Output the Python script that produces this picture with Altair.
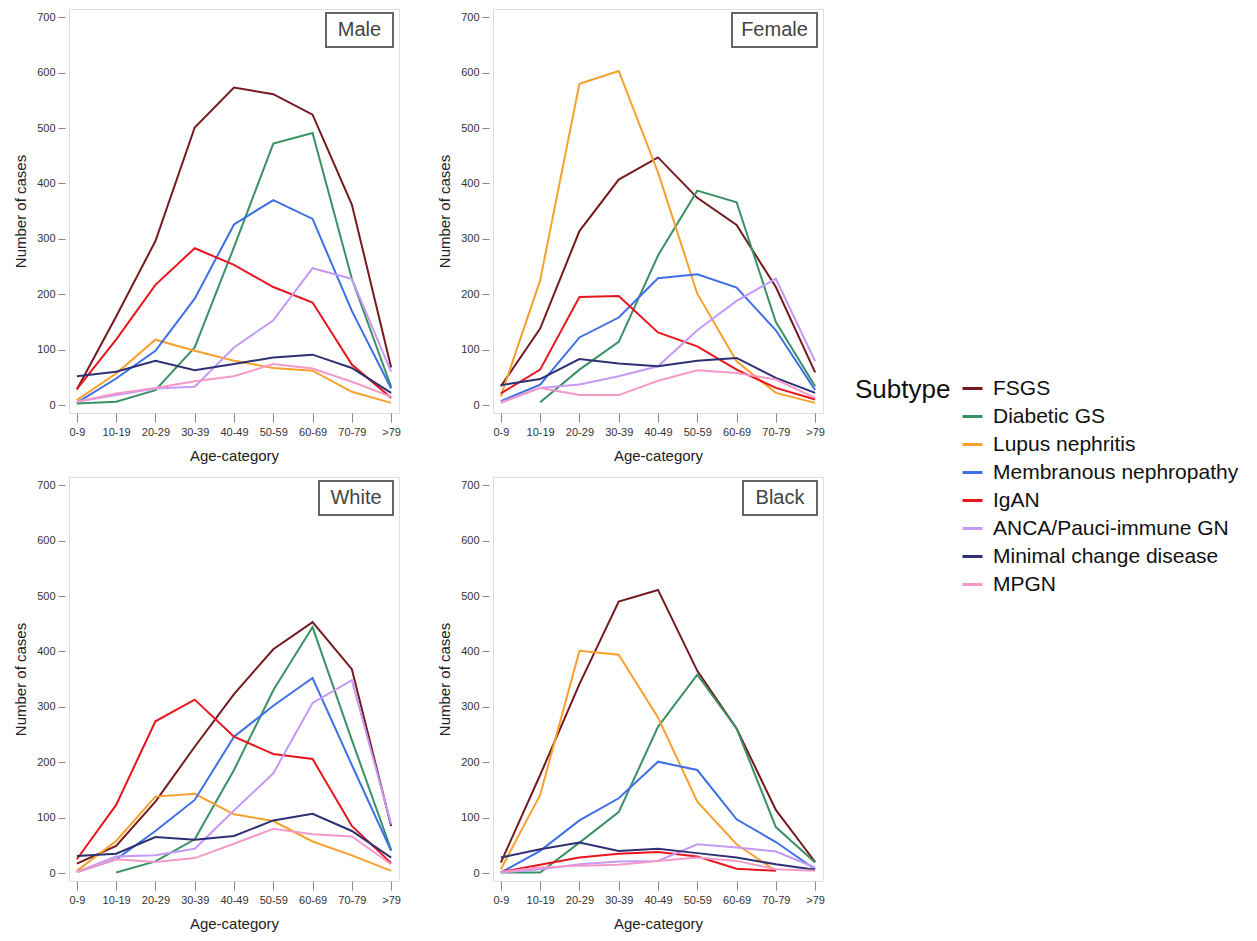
import altair as alt
import pandas as pd
import numpy as np

AGES = ["0-9", "10-19", "20-29", "30-39", "40-49", "50-59", "60-69", "70-79", ">79"]
SUBTYPES = ["FSGS", "Diabetic GS", "Lupus nephritis", "Membranous nephropathy", "IgAN",
            "ANCA/Pauci-immune GN", "Minimal change disease", "MPGN"]
COLORS = ["#741a20", "#3a9163", "#f7a02c", "#3d6fe6", "#e8141e", "#c49af5", "#2f2f74", "#f59ac8"]
PANELS = ["Male", "Female", "White", "Black"]
N = None

# Male
male_fsgs = [28, 160, 296, 501, 573, 561, 524, 362, 68]
male_dgs = [3, 6, 27, 104, 285, 472, 491, 228, 33]
male_lupus = [9, 57, 118, 98, 80, 67, 62, 24, 4]
male_mn = [4, 48, 98, 192, 326, 370, 336, 170, 30]
male_igan = [29, 118, 217, 283, 253, 213, 185, 73, 13]
male_anca = [6, 18, 30, 33, 104, 153, 247, 228, 60]
male_mcd = [52, 60, 80, 63, 74, 86, 91, 67, 22]
male_mpgn = [6, 21, 31, 43, 52, 74, 66, 42, 15]

# Female
female_fsgs = [34, 138, 314, 407, 447, 374, 325, 213, 59]
female_dgs = [N, 5, 64, 114, 270, 387, 366, 150, 34]
female_lupus = [16, 225, 580, 603, 420, 201, 79, 22, 4]
female_mn = [7, 37, 122, 158, 229, 236, 212, 135, 27]
female_igan = [21, 64, 195, 197, 131, 106, 64, 31, 10]
female_anca = [5, 31, 37, 52, 70, 135, 188, 228, 79]
female_mcd = [36, 47, 83, 75, 70, 80, 85, 49, 22]
female_mpgn = [4, 31, 18, 18, 44, 63, 58, 46, 13]

# White
white_fsgs = [17, 49, 129, 228, 323, 404, 453, 368, 85]
white_dgs = [N, 1, 21, 61, 186, 330, 444, 240, 42]
white_lupus = [4, 58, 138, 143, 106, 94, 57, 32, 4]
white_mn = [2, 25, 76, 132, 246, 302, 352, 195, 40]
white_igan = [25, 123, 274, 313, 246, 215, 206, 85, 18]
white_anca = [2, 30, 32, 44, 113, 180, 307, 348, 88]
white_mcd = [31, 35, 65, 60, 67, 95, 107, 76, 28]
white_mpgn = [2, 25, 20, 27, 53, 80, 70, 66, 16]

# Black
black_fsgs = [19, 177, 341, 490, 511, 365, 261, 114, 20]
black_dgs = [1, 1, 55, 110, 264, 358, 261, 83, 19]
black_lupus = [7, 141, 401, 394, 281, 129, 52, 4, N]
black_mn = [1, 40, 95, 135, 201, 186, 97, 56, 7]
black_igan = [2, 15, 28, 35, 38, 30, 8, 4, N]
black_anca = [1, 7, 16, 21, 22, 52, 46, 39, 10]
black_mcd = [28, 43, 55, 40, 44, 36, 28, 16, 6]
black_mpgn = [2, 10, 13, 15, 22, 28, 22, 7, 4]

SERIES = {
    "Male": [male_fsgs, male_dgs, male_lupus, male_mn, male_igan, male_anca, male_mcd, male_mpgn],
    "Female": [female_fsgs, female_dgs, female_lupus, female_mn, female_igan, female_anca, female_mcd, female_mpgn],
    "White": [white_fsgs, white_dgs, white_lupus, white_mn, white_igan, white_anca, white_mcd, white_mpgn],
    "Black": [black_fsgs, black_dgs, black_lupus, black_mn, black_igan, black_anca, black_mcd, black_mpgn],
}
BOX_W = {"Male": 67, "Female": 85, "White": 74, "Black": 74}

W, H = 330, 404
FONT = "Liberation Sans"

color_scale = alt.Scale(domain=SUBTYPES, range=COLORS)


def panel(name, show_legend):
    rows = []
    for s, vals in zip(SUBTYPES, SERIES[name]):
        for a, v in zip(AGES, vals):
            rows.append({"Age": a, "Subtype": s, "Cases": np.nan if v is None else v})
    df = pd.DataFrame(rows)
    if show_legend:
        legend = alt.Legend(
            orient="none", legendX=786, legendY=368, titleOrient="left", titleAnchor="start",
            title="Subtype", titleFontSize=26, titleFontWeight="normal", titleColor="#111",
            titleFont=FONT, titlePadding=10, titleBaseline="top",
            labelFont=FONT, labelFontSize=21, labelColor="#111", labelLimit=400, labelOffset=9,
            symbolType="stroke", symbolStrokeWidth=3, symbolSize=400, rowPadding=6,
        )
    else:
        legend = None
    lines = alt.Chart(df).mark_line(strokeWidth=2).encode(
        x=alt.X("Age:N", sort=AGES, scale=alt.Scale(type="point", padding=0.2),
                axis=alt.Axis(title="Age-category", labelAngle=0, domain=False, tickColor="#888",
                              tickSize=9, labelFont=FONT, labelFontSize=11, labelColor="#333",
                              titleFont=FONT, titleFontSize=15, titleFontWeight="normal",
                              titleColor="#222", labelPadding=4, titlePadding=11)),
        y=alt.Y("Cases:Q", scale=alt.Scale(domain=[-14.3, 714.8], nice=False, zero=False),
                axis=alt.Axis(title="Number of cases", values=list(range(0, 800, 100)), domain=False,
                              tickColor="#888", tickSize=7, offset=4, grid=False,
                              labelFont=FONT, labelFontSize=11, labelColor="#333",
                              titleFont=FONT, titleFontSize=15, titleFontWeight="normal",
                              titleColor="#222", labelPadding=3, titlePadding=8)),
        color=alt.Color("Subtype:N", scale=color_scale, sort=SUBTYPES, legend=legend),
    )
    bw = BOX_W[name]
    box = alt.Chart(pd.DataFrame({"label": [name]})).mark_rect(
        fill="white", stroke="#666", strokeWidth=2
    ).encode(x=alt.value(W - 6 - bw), x2=alt.value(W - 6), y=alt.value(4), y2=alt.value(38))
    txt = alt.Chart(pd.DataFrame({"label": [name]})).mark_text(
        font=FONT, fontSize=20, color="#444", align="center", baseline="middle"
    ).encode(x=alt.value(W - 6 - bw / 2), y=alt.value(21), text="label:N")
    return alt.layer(lines, box, txt).properties(width=W, height=H)


top = alt.hconcat(panel("Male", True), panel("Female", False), spacing=36)
bottom = alt.hconcat(panel("White", False), panel("Black", False), spacing=36)
chart = alt.vconcat(top, bottom, spacing=12).configure_view(
    stroke="#d9d9d9", strokeWidth=1.5
).configure(background="white", padding={"left": 5, "top": 0, "right": 0, "bottom": 0})

chart.save("out.html", embed_options={"renderer": "svg", "actions": False})
